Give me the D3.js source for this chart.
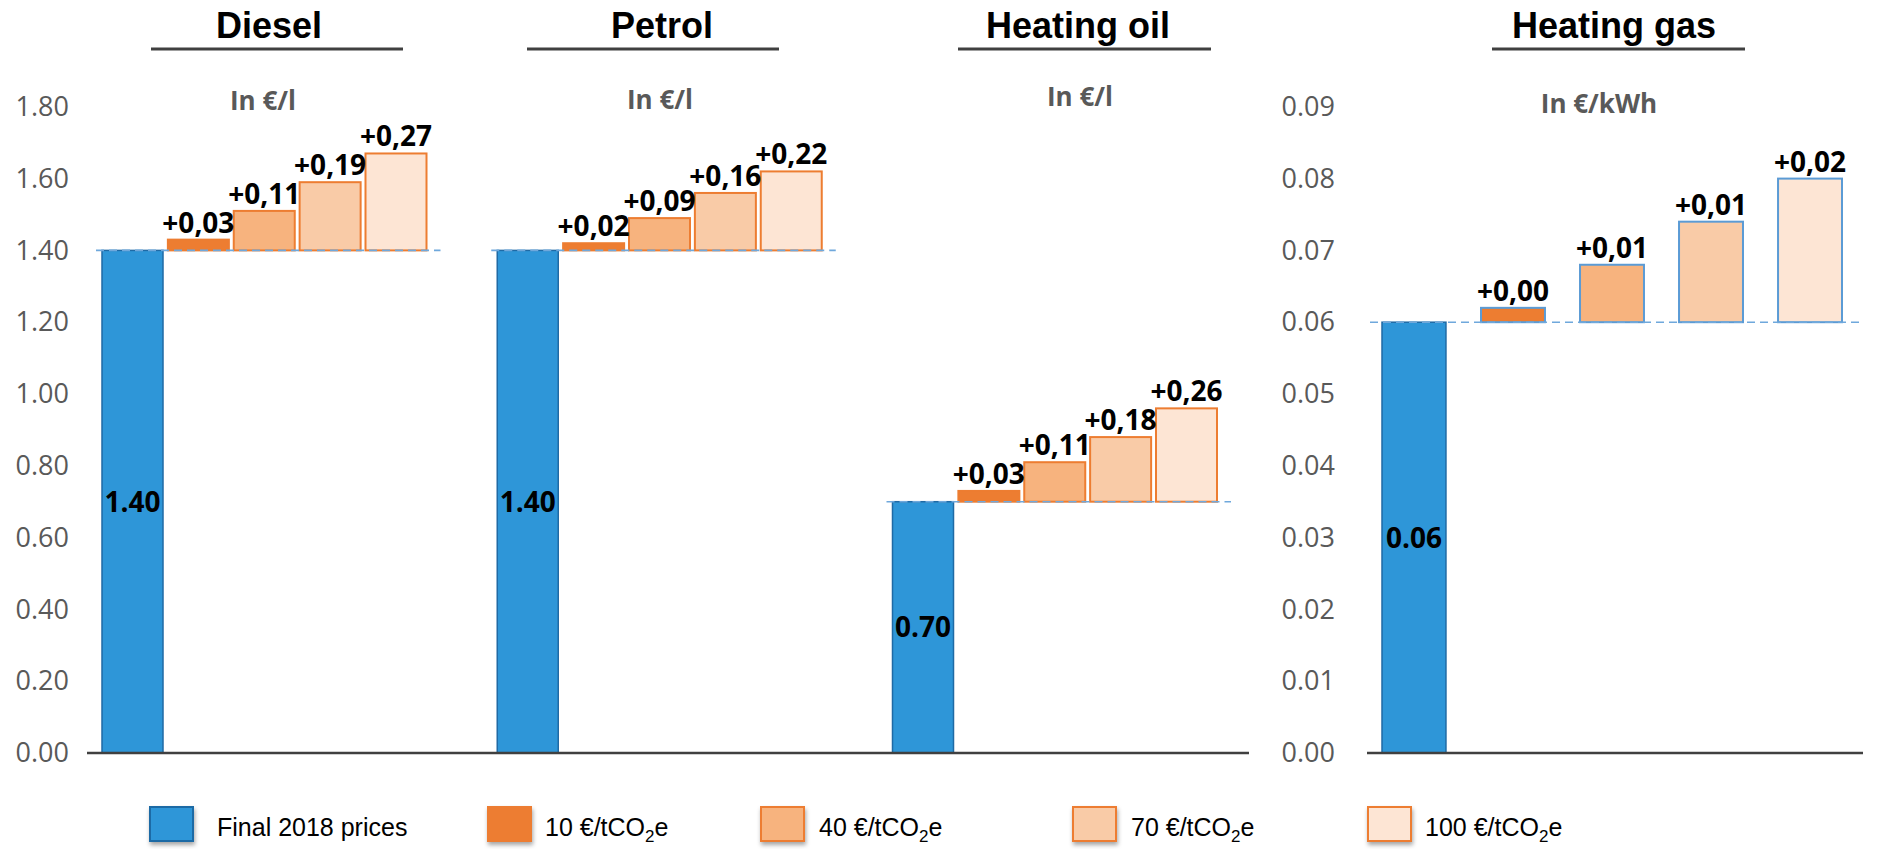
<!DOCTYPE html>
<html>
<head>
<meta charset="utf-8">
<script src="https://cdn.jsdelivr.net/npm/d3@7"></script>
<style>
  html, body { margin: 0; padding: 0; background: #fff; }
  svg { display: block; }
</style>
</head>
<body>
<script>
// ---- Data -------------------------------------------------------------
const fuels = ["Diesel", "Petrol", "Heating oil"];
const fuelUnits = ["In €/l", "In €/l", "In €/l"];
const basePrices = [1.40, 1.40, 0.70];           // final 2018 prices, €/l
const dieselAdds = [0.03, 0.11, 0.19, 0.27];      // surcharge per CO2 price
const petrolAdds = [0.02, 0.09, 0.16, 0.22];
const oilAdds    = [0.03, 0.11, 0.18, 0.26];
const fuelAdds = [dieselAdds, petrolAdds, oilAdds];

const gasName = "Heating gas";
const gasUnit = "In €/kWh";
const gasBase = 0.06;                             // €/kWh
const gasAdds = [0.002, 0.008, 0.014, 0.020];

const seriesNames = ["Final 2018 prices", "10 €/tCO2e", "40 €/tCO2e", "70 €/tCO2e", "100 €/tCO2e"];
const leftTicks  = [0, 0.2, 0.4, 0.6, 0.8, 1.0, 1.2, 1.4, 1.6, 1.8];
const rightTicks = [0, 0.01, 0.02, 0.03, 0.04, 0.05, 0.06, 0.07, 0.08, 0.09];

// ---- Styles -----------------------------------------------------------
const fills   = ["#2E96D8", "#ED7D31", "#F7B37E", "#F9CBA7", "#FDE5D4"];
const strokes = ["#1F6AA5", "#ED7D31", "#ED7D31", "#ED7D31", "#ED7D31"];
const gasStroke = "#5B9BD5";
const labelFont = "'Open Sans', 'DejaVu Sans', sans-serif";
const titleFont = "'Liberation Sans', Arial, sans-serif";

// title / underline placement per panel (center of title text, underline extent)
const titleLayout = [
  { cx: 269,  u0: 151,  u1: 403,  sub: 263,  subY: 110 },
  { cx: 662,  u0: 527,  u1: 779,  sub: 660,  subY: 109 },
  { cx: 1078, u0: 958,  u1: 1211, sub: 1080, subY: 106 },
  { cx: 1614, u0: 1492, u1: 1745, sub: 1599, subY: 113 }
];
const legendLayout = [
  { sx: 150, tx: 217 }, { sx: 488, tx: 545 }, { sx: 761, tx: 819 },
  { sx: 1073, tx: 1131 }, { sx: 1368, tx: 1425 }
];

const W = 1877, H = 849;
const svg = d3.select("body").append("svg").attr("width", W).attr("height", H);

const defs = svg.append("defs");
const sh = defs.append("filter").attr("id", "swShadow")
  .attr("x", "-30%").attr("y", "-30%").attr("width", "160%").attr("height", "180%");
sh.append("feDropShadow").attr("dx", 1).attr("dy", 3).attr("stdDeviation", 2)
  .attr("flood-color", "#000").attr("flood-opacity", 0.35);

// ---- Scales -----------------------------------------------------------
const y0 = 753, yTop = 106.8;
const yL = d3.scaleLinear().domain([0, 1.8]).range([y0, yTop]);
const yR = d3.scaleLinear().domain([0, 0.09]).range([y0, yTop]);

const leftSlots = [];
fuels.forEach((f, i) => {
  if (i > 0) leftSlots.push("gap" + i);
  seriesNames.forEach((s, k) => leftSlots.push(f + "#" + k));
});
const xL = d3.scaleBand().domain(leftSlots).range([102, 1217]).paddingInner(0.074).paddingOuter(0);
const xR = d3.scaleBand().domain(d3.range(seriesNames.length)).range([1382, 1842]).paddingInner(0.354);

const fmtBase = d3.format(".2f");
const fmtAdd = v => "+" + d3.format(".2f")(v).replace(".", ",");

// ---- Axes -------------------------------------------------------------
function styleAxis(g) {
  g.select(".domain").remove();
  g.selectAll("text")
    .attr("font-family", labelFont)
    .attr("font-size", 27)
    .attr("fill", "#595959");
}
svg.append("g").attr("transform", "translate(78,0)")
  .call(d3.axisLeft(yL).tickValues(leftTicks).tickSize(0).tickPadding(9).tickFormat(fmtBase))
  .call(styleAxis);
svg.append("g").attr("transform", "translate(1344,0)")
  .call(d3.axisLeft(yR).tickValues(rightTicks).tickSize(0).tickPadding(9).tickFormat(fmtBase))
  .call(styleAxis);

// ---- Bars -------------------------------------------------------------
const leftBars = [];
fuels.forEach((f, i) => {
  const base = basePrices[i];
  leftBars.push({ key: f + "#0", lo: 0, hi: base, s: 0, label: fmtBase(base) });
  fuelAdds[i].forEach((a, k) => {
    leftBars.push({ key: f + "#" + (k + 1), lo: base, hi: base + a, s: k + 1, label: fmtAdd(a) });
  });
});
const gasBars = [{ key: 0, lo: 0, hi: gasBase, s: 0, label: fmtBase(gasBase) }]
  .concat(gasAdds.map((a, k) => ({ key: k + 1, lo: gasBase, hi: gasBase + a, s: k + 1, label: fmtAdd(a) })));

function drawBars(data, x, y, strokeFor) {
  const g = svg.append("g");
  g.selectAll("rect").data(data).join("rect")
    .attr("x", d => x(d.key))
    .attr("width", x.bandwidth())
    .attr("y", d => y(d.hi))
    .attr("height", d => y(d.lo) - y(d.hi))
    .attr("fill", d => fills[d.s])
    .attr("stroke", d => strokeFor(d))
    .attr("stroke-width", d => d.s === 0 ? 1.5 : 2);
  return g;
}
drawBars(leftBars, xL, yL, d => strokes[d.s]);
drawBars(gasBars, xR, yR, d => d.s === 0 ? strokes[0] : gasStroke);

// ---- Dashed reference lines at the 2018 price level --------------------
const refLines = fuels.map((f, i) => ({
  x1: xL(f + "#0") - 6, x2: xL(f + "#4") + xL.bandwidth() + 14, y: yL(basePrices[i])
}));
refLines.push({ x1: xR(0) - 12, x2: xR(4) + xR.bandwidth() + 18, y: yR(gasBase) });
svg.append("g").selectAll("line").data(refLines).join("line")
  .attr("x1", d => d.x1).attr("x2", d => d.x2)
  .attr("y1", d => d.y).attr("y2", d => d.y)
  .attr("stroke", "#6FA8DC").attr("stroke-width", 1.6).attr("stroke-dasharray", "8,5");

// ---- Category baselines ----------------------------------------------
svg.append("line").attr("x1", 87).attr("x2", 1249).attr("y1", y0).attr("y2", y0)
  .attr("stroke", "#404040").attr("stroke-width", 2.5);
svg.append("line").attr("x1", 1367).attr("x2", 1863).attr("y1", y0).attr("y2", y0)
  .attr("stroke", "#404040").attr("stroke-width", 2.5);

// ---- Value labels ----------------------------------------------------
function drawLabels(data, x, y) {
  const g = svg.append("g")
    .attr("font-family", labelFont).attr("font-size", 28).attr("font-weight", 700)
    .attr("fill", "#000").attr("text-anchor", "middle");
  g.selectAll("text").data(data).join("text")
    .attr("x", d => x(d.key) + x.bandwidth() / 2)
    .attr("y", d => d.s === 0 ? (y(d.lo) + y(d.hi)) / 2 : y(d.hi) - 7)
    .attr("dy", d => d.s === 0 ? "0.36em" : 0)
    .text(d => d.label);
}
drawLabels(leftBars, xL, yL);
drawLabels(gasBars, xR, yR);

// ---- Panel titles and units ------------------------------------------
const titles = fuels.concat([gasName]);
const units = fuelUnits.concat([gasUnit]);
const tg = svg.append("g");
titles.forEach((t, i) => {
  const L = titleLayout[i];
  tg.append("text").attr("x", L.cx).attr("y", 38).attr("text-anchor", "middle")
    .attr("font-family", titleFont).attr("font-size", 36).attr("font-weight", 700)
    .attr("fill", "#000").text(t);
  tg.append("line").attr("x1", L.u0).attr("x2", L.u1).attr("y1", 49).attr("y2", 49)
    .attr("stroke", "#404040").attr("stroke-width", 3);
  tg.append("text").attr("x", L.sub).attr("y", L.subY).attr("text-anchor", "middle")
    .attr("font-family", labelFont).attr("font-size", 26).attr("font-weight", 700)
    .attr("fill", "#595959").text(units[i]);
});

// ---- Legend ------------------------------------------------------------
const lg = svg.append("g");
seriesNames.forEach((name, i) => {
  const L = legendLayout[i];
  lg.append("rect").attr("x", L.sx).attr("y", 807).attr("width", 43).attr("height", 34)
    .attr("fill", fills[i]).attr("stroke", strokes[i]).attr("stroke-width", 2)
    .attr("filter", "url(#swShadow)");
  const t = lg.append("text").attr("x", L.tx).attr("y", 836)
    .attr("font-family", titleFont).attr("font-size", 25).attr("fill", "#000");
  const m = name.match(/^(.*CO)2(.*)$/);
  if (m) {
    t.append("tspan").text(m[1]);
    t.append("tspan").attr("font-size", 17).attr("dy", 6).text("2");
    t.append("tspan").attr("dy", -6).text(m[2]);
  } else {
    t.text(name);
  }
});
</script>
</body>
</html>
